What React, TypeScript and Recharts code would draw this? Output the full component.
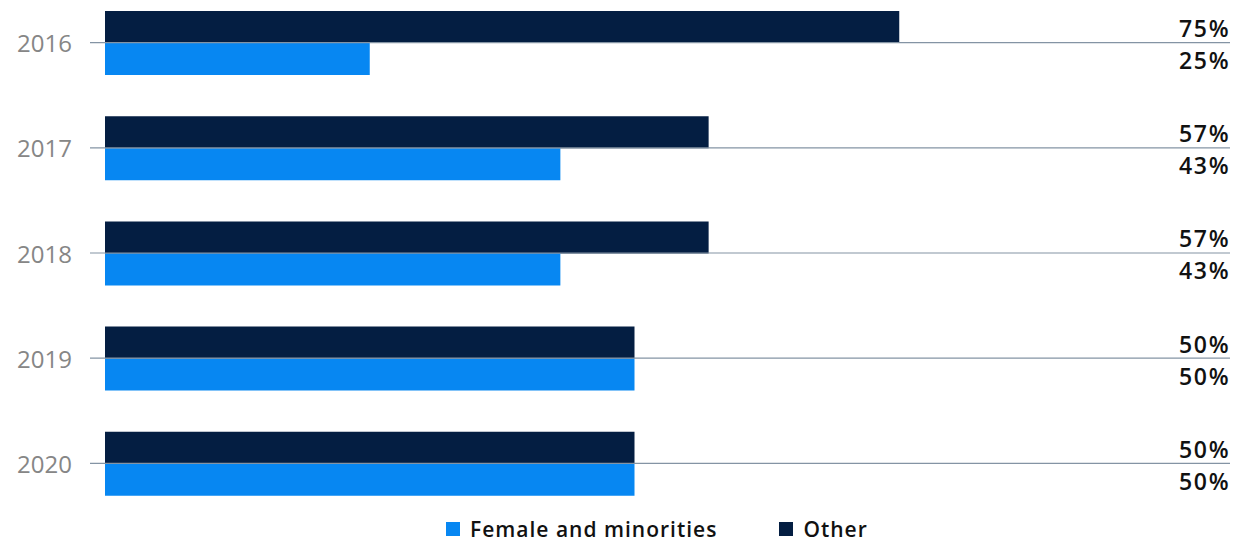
import React from 'react';
import { BarChart, Bar, XAxis, YAxis, Legend, LabelList } from 'recharts';

const years = ['2016', '2017', '2018', '2019', '2020'];
const femaleAndMinorities = [25, 43, 43, 50, 50];
const other = [75, 57, 57, 50, 50];
const seriesNames = { female: 'Female and minorities', other: 'Other' };

const NAVY = '#041E42';
const BLUE = '#0787F2';
const FONT = '"Open Sans", "Noto Sans", sans-serif';

const data = years.map((year, i) => ({
  year,
  female: femaleAndMinorities[i],
  other: other[i],
}));

const YearTick = (props: any) => {
  const { y, payload } = props;
  return (
    <g>
      <line x1={90} x2={1230} y1={y} y2={y} stroke="#8494a4" strokeWidth={1.2} />
      <text
        x={72}
        y={y}
        textAnchor="end"
        dominantBaseline="central"
        fontFamily={FONT}
        fontSize={24}
        fill="#868686"
      >
        {payload.value}
      </text>
    </g>
  );
};

const ValueLabel = (props: any) => {
  const { y, height, value } = props;
  return (
    <text
      x={1230.5}
      y={Number(y) + Number(height) / 2 + 1}
      textAnchor="end"
      dominantBaseline="central"
      fontFamily={FONT}
      fontWeight={600}
      fontSize={23}
      letterSpacing={1.8}
      fill="#111111"
    >
      {value}%
    </text>
  );
};

const LegendContent = () => {
  const items = [
    { name: seriesNames.female, color: BLUE },
    { name: seriesNames.other, color: NAVY },
  ];
  return (
    <div
      style={{
        display: 'flex',
        alignItems: 'center',
        height: 25,
        paddingLeft: 446,
        fontFamily: FONT,
        fontWeight: 600,
        fontSize: 21,
        letterSpacing: 1,
        color: '#111111',
      }}
    >
      {items.map((it, i) => (
        <div key={it.name} style={{ display: 'flex', alignItems: 'center', marginRight: i === 0 ? 62 : 0 }}>
          <span style={{ display: 'inline-block', width: 14, height: 14, background: it.color, marginRight: 10 }} />
          <span>{it.name}</span>
        </div>
      ))}
    </div>
  );
};

export default function App() {
  return (
    <div style={{ position: 'absolute', left: 0, top: 0, background: '#fff' }}>
      <BarChart
        width={1237}
        height={541}
        data={data}
        layout="vertical"
        margin={{ top: -10, right: 73, bottom: 0, left: 0 }}
        barGap={0}
      >
        <XAxis type="number" domain={[0, 100]} hide />
        <YAxis
          type="category"
          dataKey="year"
          width={105}
          axisLine={false}
          tickLine={false}
          tick={<YearTick />}
        />
        <Bar dataKey="other" name={seriesNames.other} fill={NAVY} barSize={32} isAnimationActive={false}>
          <LabelList dataKey="other" content={<ValueLabel />} />
        </Bar>
        <Bar dataKey="female" name={seriesNames.female} fill={BLUE} barSize={32} isAnimationActive={false}>
          <LabelList dataKey="female" content={<ValueLabel />} />
        </Bar>
        <Legend verticalAlign="bottom" content={<LegendContent />} />
      </BarChart>
    </div>
  );
}
